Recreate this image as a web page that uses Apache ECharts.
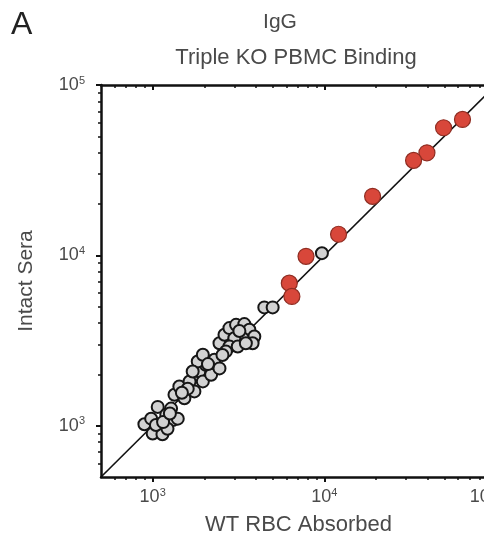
<!DOCTYPE html>
<html>
<head>
<meta charset="utf-8">
<script src="https://cdn.jsdelivr.net/npm/echarts@6/dist/echarts.min.js"></script>
<style>
html,body{margin:0;padding:0;background:#fff;}
#c{width:484px;height:539px;}
</style>
</head>
<body>
<div id="c"></div>
<script>
// ---- data (raw values, log-log plot) ----
const axisMin = 500;
const axisMax = 100000;
const majorTicks = [1000, 10000, 100000];
const minorTicks = [600,700,800,900,2000,3000,4000,5000,6000,7000,8000,9000,20000,30000,40000,50000,60000,70000,80000,90000];
const identityLine = [500, 100000];

// open (grey) circles
const openX = [895, 980, 1000, 1070, 1120, 1140, 1200, 1280, 1310, 1400, 1220, 1045, 1150, 1260,
  1340, 1430, 1530, 1640, 1750, 1870, 1960, 2040, 2190, 2290, 2450, 1830, 1710, 1960, 1600, 1480, 2100,
  2450, 2620, 2800, 3060, 3420, 3660, 3910, 3820, 3340, 2990, 2800, 3130, 3490, 2670, 2550, 3200,
  4470, 5000, 9680];
const openY = [1020, 1100, 900, 1290, 1010, 890, 1160, 1260, 1080, 1100, 960, 1010, 1050, 1180,
  1520, 1700, 1450, 1820, 1590, 2080, 1820, 2280, 1990, 2440, 2170, 2380, 2080, 2610, 1650, 1560, 2300,
  3050, 3420, 3740, 3910, 3950, 3660, 3340, 3050, 3260, 3260, 2920, 2920, 3050, 2730, 2600, 3600,
  4950, 4950, 10300];

// red filled circles
const redX = [63800, 49500, 39600, 33100, 19100, 12100, 7820, 6250, 6470];
const redY = [62800, 56100, 40000, 36100, 22200, 13300, 9870, 6870, 5740];

// ---- build ----
const L = v => Math.log10(v);
const zip = (xs, ys) => xs.map((x, i) => [L(x), L(ys[i])]);
const fmt = v => '{b|10}{s|' + Math.round(v) + '}';
const FF = 'Liberation Sans, Arial, sans-serif';
const rich = {
  b: {fontSize: 18, color: '#4a4a4a', fontFamily: FF},
  s: {fontSize: 11, color: '#4a4a4a', fontFamily: FF, padding: [0, 0, 9, 0]}
};
const lineCol = '#111';
const lo = L(axisMin), hi = L(axisMax);
const majors = majorTicks.map(L);
const minors = minorTicks.map(L);

function mkX(pos, major, withLabel, inside) {
  return {
    type: 'value', position: pos, min: lo, max: hi, gridIndex: 0,
    axisLine: {show: major, onZero: false, lineStyle: {color: lineCol, width: 2.5}},
    axisTick: {show: true, inside: inside, length: major ? 5 : 3, customValues: major ? majors : minors,
      lineStyle: {color: lineCol, width: major ? 2 : 1.5}},
    axisLabel: withLabel ? {show: true, customValues: majors, formatter: fmt, rich: rich, margin: 10,
      alignMaxLabel: 'right', showMaxLabel: true, hideOverlap: false} : {show: false},
    splitLine: {show: false},
    name: withLabel ? 'WT RBC Absorbed' : '',
    nameLocation: 'middle', nameGap: 37,
    nameTextStyle: {fontSize: 22, color: '#4a4a4a', fontFamily: FF}
  };
}
function mkY(pos, major, withLabel, inside) {
  return {
    type: 'value', position: pos, min: lo, max: hi, gridIndex: 0,
    axisLine: {show: major, onZero: false, lineStyle: {color: lineCol, width: 2.5}},
    axisTick: {show: true, inside: inside, length: major ? 5 : 3, customValues: major ? majors : minors,
      lineStyle: {color: lineCol, width: major ? 2 : 1.5}},
    axisLabel: withLabel ? {show: true, customValues: majors, formatter: fmt, rich: rich, margin: 16} : {show: false},
    splitLine: {show: false},
    name: withLabel ? 'Intact Sera' : '',
    nameLocation: 'middle', nameGap: 64, nameRotate: 90,
    nameTextStyle: {fontSize: 21, color: '#4a4a4a', fontFamily: FF}
  };
}

const chart = echarts.init(document.getElementById('c'), null, {renderer: 'canvas'});
chart.setOption({
  backgroundColor: '#fff',
  animation: false,
  grid: {left: 101, top: 85, width: 395, height: 392, containLabel: false, outerBoundsMode: 'none'},
  xAxis: [mkX('bottom', true, true, false), mkX('bottom', false, false, false),
          mkX('top', true, false, true), mkX('top', false, false, true)],
  yAxis: [mkY('left', true, true, false), mkY('left', false, false, false)],
  graphic: [
    {type: 'text', left: 11, top: 9, style: {text: 'A', fontSize: 32, fill: '#222', fontFamily: FF}},
    {type: 'text', x: 280, y: 22, style: {text: 'IgG', fontSize: 21, fill: '#4a4a4a', align: 'center', verticalAlign: 'middle', fontFamily: FF}},
    {type: 'text', x: 296, y: 58, style: {text: 'Triple KO PBMC Binding', fontSize: 22, fill: '#4a4a4a', align: 'center', verticalAlign: 'middle', fontFamily: FF}}
  ],
  series: [
    {type: 'line', xAxisIndex: 0, yAxisIndex: 0, data: identityLine.map(v => [L(v), L(v)]),
      symbol: 'none', lineStyle: {color: '#111', width: 1.6}, z: 1, silent: true},
    {type: 'scatter', xAxisIndex: 0, yAxisIndex: 0, data: zip(openX, openY), symbolSize: 12,
      itemStyle: {color: '#d2d2d2', borderColor: '#161616', borderWidth: 2, opacity: 1}, z: 3},
    {type: 'scatter', xAxisIndex: 0, yAxisIndex: 0, data: zip(redX, redY), symbolSize: 16,
      itemStyle: {color: '#d8473a', borderColor: '#8f2d22', borderWidth: 1.2, opacity: 1}, z: 4}
  ]
});
</script>
</body>
</html>
